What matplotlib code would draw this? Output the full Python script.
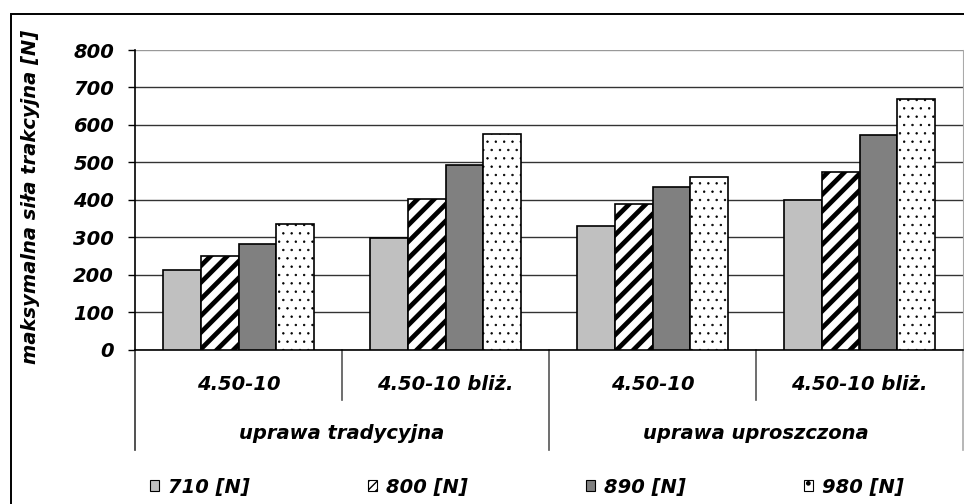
import matplotlib
matplotlib.use("Agg")
import matplotlib.pyplot as plt
import matplotlib.transforms as mtransforms
from matplotlib.patches import Patch, Rectangle
import numpy as np

plt.rcParams["font.family"] = ["DejaVu Sans"]
plt.rcParams["font.weight"] = "bold"
plt.rcParams["font.style"] = "italic"
plt.rcParams["font.size"] = 14

categories = ["4.50-10", "4.50-10 bliż.", "4.50-10", "4.50-10 bliż."]
groups = ["uprawa tradycyjna", "uprawa uproszczona"]
series = ["710 [N]", "800 [N]", "890 [N]", "980 [N]"]
v710 = [213, 299, 330, 400]
v800 = [250, 403, 388, 474]
v890 = [282, 492, 433, 572]
v980 = [335, 575, 461, 670]
yticks = [0, 100, 200, 300, 400, 500, 600, 700, 800]

values = [v710, v800, v890, v980]
faces = ["#c0c0c0", "white", "#808080", "white"]
hatches = [None, "//", None, ".."]
hatch_lw = [1.0, 3.4, 1.0, 0.5]

fig = plt.figure(figsize=(9.64, 5.04), dpi=100)
ax = fig.add_axes([135 / 964, 1 - 349.5 / 504, 828 / 964, 299.5 / 504])

x = np.arange(len(categories))
w = 0.182
for i, vals in enumerate(values):
    bars = ax.bar(x + (i - 1.5) * w, vals, w, color=faces[i], edgecolor="black",
                  linewidth=1.2, hatch=hatches[i], zorder=3)
    for b in bars:
        if hasattr(b, "set_hatch_linewidth"):
            b.set_hatch_linewidth(hatch_lw[i])

ax.set_xlim(-0.5, len(categories) - 0.5)
ax.set_ylim(0, 800)
ax.set_yticks(yticks)
ax.set_xticks([])
ax.tick_params(axis="y", direction="out", length=5, width=1, pad=10, colors="black")
ax.yaxis.grid(True, color="#333333", linewidth=1)
ax.set_axisbelow(True)
gl = ax.yaxis.get_gridlines()
gl[-1].set_color("#999999")
ax.spines["top"].set_visible(False)
ax.spines["right"].set_color("#aaaaaa")
ax.spines["left"].set_linewidth(1.2)
ax.spines["bottom"].set_linewidth(1.2)

# two-level category axis
trans = mtransforms.blended_transform_factory(ax.transData, ax.transAxes)
short = -50.5 / 299.5
long_ = -100.5 / 299.5
for k in range(len(categories) + 1):
    xs = k - 0.5
    if k in (0, 4):
        ybot, col = long_, "#333333"
    elif k == 2:
        ybot, col = long_, "#555555"
    else:
        ybot, col = short, "#555555"
    if k == 4:
        col = "#aaaaaa"
    ax.plot([xs, xs], [0, ybot], transform=trans, color=col, lw=1.2,
            clip_on=False)

for i, c in enumerate(categories):
    ax.text(i, -35.5 / 299.5, c, transform=trans, ha="center", va="center")
for g, name in enumerate(groups):
    ax.text(2 * g + 0.5, -84 / 299.5, name, transform=trans, ha="center", va="center")

fig.text(31 / 964, 1 - 197 / 504, "maksymalna siła trakcyjna [N]", rotation=90,
         ha="center", va="center")

legend_hatches = [None, "////", None, "."]
handles = []
for i in range(4):
    h = Patch(facecolor=faces[i], edgecolor="black", linewidth=0.8,
              hatch=legend_hatches[i])
    if i == 1 and hasattr(h, "set_hatch_linewidth"):
        h.set_hatch_linewidth(2.0)
    handles.append(h)
fig.legend(handles, series, loc="center left",
           bbox_to_anchor=(150 / 964, 17 / 504), ncol=4, frameon=False,
           borderpad=0, borderaxespad=0, handlelength=0.46, handleheight=0.46,
           handletextpad=0.45, columnspacing=6.1)

fig.add_artist(Rectangle((11 / 964, -0.1), 1.2, 1 - 14 / 504 + 0.1,
                         transform=fig.transFigure, fill=False,
                         edgecolor="black", linewidth=1.4))

fig.savefig("out.png", dpi=100)
